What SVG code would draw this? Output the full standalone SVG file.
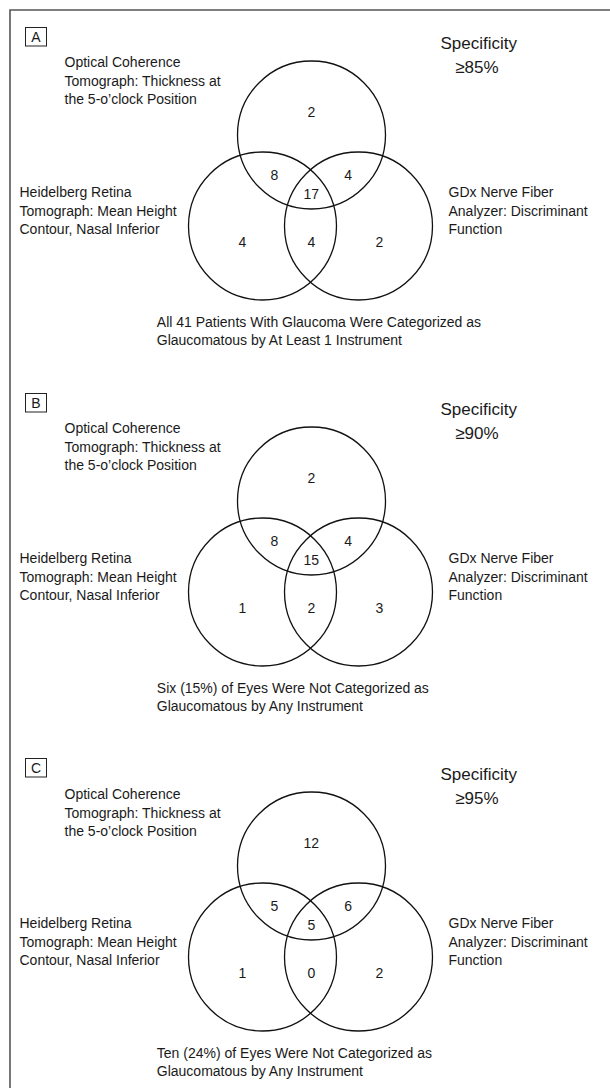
<svg xmlns="http://www.w3.org/2000/svg" width="610" height="1088" viewBox="0 0 610 1088">
<style>
text{font-family:"Liberation Sans",Arial,sans-serif;fill:#1a1a1a}
.lbl{font-size:14px}
.num{font-size:14px;text-anchor:middle}
.spec{font-size:17px}
.ring{fill:none;stroke:#111;stroke-width:1.3}
.pbox{fill:none;stroke:#222;stroke-width:1}
.frame{fill:none;stroke:#555;stroke-width:1.6}
</style>
<rect width="610" height="1088" fill="#fff"/>
<path class="frame" d="M10,1088 V10 H610"/>

<g id="panelA">
  <g id="A-tag"><rect class="pbox" x="25.5" y="27.5" width="21" height="18.5"/><text class="num" x="36" y="42">A</text></g>
  <g id="A-spec"><text class="spec" x="440.4" y="49">Specificity</text><text class="spec" x="455.2" y="73">≥85%</text></g>
  <g id="A-oct"><circle class="ring" cx="311.5" cy="135" r="74"/>
    <text class="lbl" x="64.5" y="67">Optical Coherence</text><text class="lbl" x="64.5" y="85.5">Tomograph: Thickness at</text><text class="lbl" x="64.5" y="104">the 5-o’clock Position</text></g>
  <g id="A-hrt"><circle class="ring" cx="262.5" cy="226" r="74"/>
    <text class="lbl" x="19.5" y="197">Heidelberg Retina</text><text class="lbl" x="19.5" y="215.5">Tomograph: Mean Height</text><text class="lbl" x="19.5" y="234">Contour, Nasal Inferior</text></g>
  <g id="A-gdx"><circle class="ring" cx="358.5" cy="226" r="74"/>
    <text class="lbl" x="448.5" y="197">GDx Nerve Fiber</text><text class="lbl" x="448.5" y="215.5">Analyzer: Discriminant</text><text class="lbl" x="448.5" y="234">Function</text></g>
  <g id="A-counts">
    <text class="num" x="311.3" y="117.3">2</text><text class="num" x="274.3" y="180">8</text><text class="num" x="348.2" y="180">4</text>
    <text class="num" x="311.3" y="199.3">17</text><text class="num" x="242.4" y="247.3">4</text><text class="num" x="311.3" y="247.3">4</text><text class="num" x="379.4" y="247.3">2</text>
  </g>
  <g id="A-note"><text class="lbl" x="156.8" y="327">All 41 Patients With Glaucoma Were Categorized as</text><text class="lbl" x="156.8" y="345">Glaucomatous by At Least 1 Instrument</text></g>
</g>

<g id="panelB" transform="translate(0,366)">
  <g id="B-tag"><rect class="pbox" x="25.5" y="27.5" width="21" height="18.5"/><text class="num" x="36" y="42">B</text></g>
  <g id="B-spec"><text class="spec" x="440.4" y="49">Specificity</text><text class="spec" x="455.2" y="73">≥90%</text></g>
  <g id="B-oct"><circle class="ring" cx="311.5" cy="135" r="74"/>
    <text class="lbl" x="64.5" y="67">Optical Coherence</text><text class="lbl" x="64.5" y="85.5">Tomograph: Thickness at</text><text class="lbl" x="64.5" y="104">the 5-o’clock Position</text></g>
  <g id="B-hrt"><circle class="ring" cx="262.5" cy="226" r="74"/>
    <text class="lbl" x="19.5" y="197">Heidelberg Retina</text><text class="lbl" x="19.5" y="215.5">Tomograph: Mean Height</text><text class="lbl" x="19.5" y="234">Contour, Nasal Inferior</text></g>
  <g id="B-gdx"><circle class="ring" cx="358.5" cy="226" r="74"/>
    <text class="lbl" x="448.5" y="197">GDx Nerve Fiber</text><text class="lbl" x="448.5" y="215.5">Analyzer: Discriminant</text><text class="lbl" x="448.5" y="234">Function</text></g>
  <g id="B-counts">
    <text class="num" x="311.3" y="117.3">2</text><text class="num" x="274.3" y="180">8</text><text class="num" x="348.2" y="180">4</text>
    <text class="num" x="311.3" y="199.3">15</text><text class="num" x="242.4" y="247.3">1</text><text class="num" x="311.3" y="247.3">2</text><text class="num" x="379.4" y="247.3">3</text>
  </g>
  <g id="B-note"><text class="lbl" x="156.8" y="327">Six (15%) of Eyes Were Not Categorized as</text><text class="lbl" x="156.8" y="345">Glaucomatous by Any Instrument</text></g>
</g>

<g id="panelC" transform="translate(0,731)">
  <g id="C-tag"><rect class="pbox" x="25.5" y="27.5" width="21" height="18.5"/><text class="num" x="36" y="42">C</text></g>
  <g id="C-spec"><text class="spec" x="440.4" y="49">Specificity</text><text class="spec" x="455.2" y="73">≥95%</text></g>
  <g id="C-oct"><circle class="ring" cx="311.5" cy="135" r="74"/>
    <text class="lbl" x="64.5" y="68">Optical Coherence</text><text class="lbl" x="64.5" y="86.5">Tomograph: Thickness at</text><text class="lbl" x="64.5" y="105">the 5-o’clock Position</text></g>
  <g id="C-hrt"><circle class="ring" cx="262.5" cy="226" r="74"/>
    <text class="lbl" x="19.5" y="197">Heidelberg Retina</text><text class="lbl" x="19.5" y="215.5">Tomograph: Mean Height</text><text class="lbl" x="19.5" y="234">Contour, Nasal Inferior</text></g>
  <g id="C-gdx"><circle class="ring" cx="358.5" cy="226" r="74"/>
    <text class="lbl" x="448.5" y="197">GDx Nerve Fiber</text><text class="lbl" x="448.5" y="215.5">Analyzer: Discriminant</text><text class="lbl" x="448.5" y="234">Function</text></g>
  <g id="C-counts">
    <text class="num" x="311.3" y="117.3">12</text><text class="num" x="274.3" y="180">5</text><text class="num" x="348.2" y="180">6</text>
    <text class="num" x="311.3" y="199.3">5</text><text class="num" x="242.4" y="247.3">1</text><text class="num" x="311.3" y="247.3">0</text><text class="num" x="379.4" y="247.3">2</text>
  </g>
  <g id="C-note"><text class="lbl" x="156.8" y="327">Ten (24%) of Eyes Were Not Categorized as</text><text class="lbl" x="156.8" y="345">Glaucomatous by Any Instrument</text></g>
</g>
</svg>
